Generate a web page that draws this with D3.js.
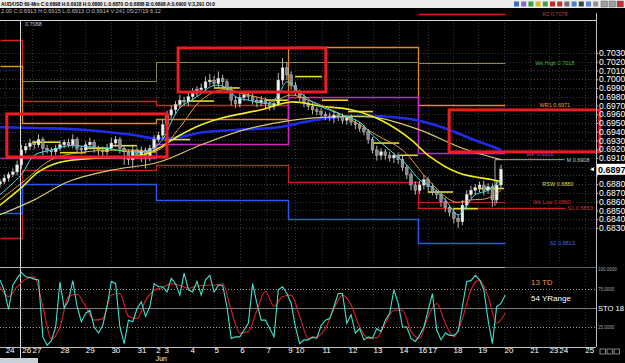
<!DOCTYPE html>
<html><head><meta charset="utf-8">
<script src="https://cdn.jsdelivr.net/npm/d3@7"></script>
<style>html,body{margin:0;padding:0;background:#000;overflow:hidden}svg{display:block}text{font-family:"Liberation Sans",Arial,sans-serif}</style>
</head><body><svg id="c" width="625" height="363"></svg>
<script>
// ---------------- DATA ----------------
// 4-hour bars, AUD/USD
const closes = [0.6883,0.6887,0.6891,0.6894,0.6902,0.6919,0.6923,0.6927,0.6925,0.6931,
0.6921,0.6919,0.6917,0.6921,0.6925,0.6928,0.6925,0.6931,0.6921,0.6919,
0.6925,0.6928,0.6921,0.6919,0.6917,0.6921,0.6927,0.6931,0.6921,0.6917,
0.6908,0.6919,0.6913,0.6919,0.6910,0.6921,0.6931,0.6936,0.6948,0.6959,
0.6965,0.6971,0.6976,0.6974,0.6980,0.6984,0.6988,0.6990,0.6997,0.6999,
0.6995,0.7001,0.6997,0.6988,0.6976,0.6972,0.6979,0.6982,0.6980,0.6976,
0.6973,0.6976,0.6972,0.6969,0.6972,0.6999,0.7013,0.7005,0.6993,0.6985,
0.6979,0.6973,0.6969,0.6965,0.6963,0.6960,0.6958,0.6956,0.6959,0.6957,
0.6953,0.6956,0.6951,0.6948,0.6944,0.6940,0.6931,0.6919,0.6913,0.6917,
0.6913,0.6910,0.6913,0.6908,0.6899,0.6891,0.6879,0.6873,0.6879,0.6885,
0.6877,0.6871,0.6868,0.6860,0.6853,0.6848,0.6841,0.6837,0.6856,0.6868,
0.6873,0.6876,0.6879,0.6873,0.6877,0.6862,0.6879,0.6897];
const firstOpen = 0.6880;
// wick lengths in pips
const upWick = [3,4,3,4,5,6,4,5,3,6, 3,4,3,4,5,3,4,6,3,3, 4,5,3,3,4,5,6,4,3,3, 3,6,3,4,3,4,5,4,6,5,
5,4,6,4,5,6,4,5,6,7, 5,8,4,3,4,5,5,4,5,4, 4,5,3,4,4,8,11,6,4,4, 3,4,3,4,3,4,3,4,5,3,
4,3,4,3,3,4,3,3,5,4, 3,4,3,3,4,3,3,4,5,5, 3,4,3,3,4,3,3,4,6,5, 5,4,4,5,4,4,6,5];
const downWick = [4,3,4,3,4,5,4,4,5,3, 8,4,5,4,3,4,3,4,6,5, 4,3,5,6,5,4,3,4,6,15, 6,10,4,8,12,4,4,3,4,4,
4,5,4,4,5,4,4,5,4,4, 4,5,6,4,6,5,4,4,4,5, 5,4,5,5,4,3,5,6,5,4, 4,5,4,5,4,4,5,4,6,5,
4,5,4,5,4,4,5,4,6,5, 5,4,6,5,4,5,6,5,4,5, 5,4,5,6,5,5,6,7,4,5, 4,5,5,6,4,8,4,4];

// moving averages: [bar, price]
const maCyan = [[0,0.6868],[5,0.6891],[8,0.6913],[12,0.6919],[16,0.6924],[20,0.6923],[25,0.6921],[30,0.6917],[35,0.6919],[38,0.6931],[40,0.6951],[42,0.6967],[46,0.6980],[50,0.6993],[53,0.6990],[55,0.6980],[58,0.6976],[63,0.6973],[65,0.6982],[67,0.6997],[70,0.6985],[74,0.6971],[80,0.6959],[84,0.6951],[87,0.6936],[91,0.6919],[95,0.6902],[98,0.6885],[101,0.6876],[104,0.6862],[107,0.6845],[109,0.6856],[111,0.6868],[114,0.6873],[117,0.6885]];
const maOrange = [[0,0.6862],[6,0.6885],[12,0.6908],[20,0.6917],[30,0.6919],[37,0.6919],[42,0.6945],[47,0.6976],[52,0.6988],[58,0.6982],[64,0.6976],[68,0.6982],[72,0.6976],[80,0.6959],[88,0.6936],[94,0.6919],[100,0.6885],[106,0.6860],[110,0.6862],[114,0.6864],[117,0.6873]];
const maYellow = [[0,0.6856],[5,0.6876],[9,0.6894],[14,0.6905],[23,0.6910],[33,0.6913],[37,0.6921],[42,0.6936],[47,0.6948],[52,0.6956],[61,0.6965],[68,0.6974],[75,0.6969],[82,0.6965],[89,0.6953],[96,0.6931],[100,0.6913],[107,0.6893],[115,0.6885],[117,0.6883]];
const maPale = [[0,0.6845],[8,0.6862],[16,0.6883],[26,0.6896],[37,0.6905],[47,0.6925],[57,0.6942],[68,0.6953],[78,0.6957],[88,0.6956],[98,0.6942],[108,0.6921],[117,0.6908]];
const maBlue = [[0,0.6945],[10,0.6944],[20,0.6942],[30,0.6937],[37,0.6932],[42,0.6934],[47,0.6939],[55,0.6942],[65,0.6945],[72,0.6952],[80,0.6957],[87,0.6958],[95,0.6955],[100,0.6950],[105,0.6942],[110,0.6932],[115,0.6923],[117,0.6919]];

// weekly pivot levels (weeks starting at bars)
const weekStarts = [0, 5.1, 36.4, 67.2, 97.6];
const weekLastBar = 118;
const wkR2 = [0.7045, 0.6975, 0.6971, null, 0.7075];
const wkR1 = [0.7015, 0.6950, 0.6955, 0.7037, 0.6971];
const wkHigh = [null, 0.6998, 0.7020, 0.7020, 0.7018];
const wkP = [0.6910, 0.6910, 0.6926, 0.6980, 0.6916];
const wkS1 = [0.6819, 0.6896, 0.6902, 0.6883, 0.6853];
const wkS2 = [0.6847, 0.6880, 0.6862, 0.6840, 0.6813];
const wkLow = [null, null, null, null, 0.6860];
const monthLevel = 0.6908;

// daily pivots
const dayPivotStart = [7.5,14.0,19.9,25.9,32.0,38.3,44.4,50.0,56.0,62.1,68.9,75.2,81.3,87.1,93.2,99.9,105.8,111.6];
const dayPivotEnd   = [14.0,19.9,25.9,32.0,36.4,44.4,50.0,56.0,62.1,67.2,75.2,81.3,87.1,93.2,97.6,105.8,111.6,117.7];
const dayPivot      = [0.6928,0.6916,0.6921,0.6924,0.6917,0.6931,0.6975,0.6990,0.6985,0.6976,0.7003,0.6976,0.6963,0.6927,0.6913,0.6871,0.6852,0.6875];

// annotation boxes [bar0, bar1, priceTop, priceBottom]
const boxes = [[1.6,39.0,0.69603,0.69111],[41.6,76.1,0.70357,0.69854],[104.9,140.1,0.69649,0.69169]];

// level labels
const levelTexts = ["R2 0.7078","Wk High 0.7018","WR1 0.6971","WP 0.6916","M 0.6908","RSW 0.6880","Wk Low 0.6860","S1 0.6853","S2 0.6813"];
const levelPrices = [0.7075,0.7018,0.6971,0.6914,0.6908,0.6880,0.6860,0.6853,0.6813];

// stochastic
const stochK = [87,73,48,80,89,97,91,90,88,87,
 12,1,7,25,84,50,60,86,52,32,
 43,47,25,17,27,52,85,82,25,3,
 34,32,49,58,39,52,82,78,78,71,
 89,82,67,96,74,71,85,67,87,93,
 71,80,80,52,10,12,12,21,30,82,
 56,34,34,23,12,74,78,69,56,25,
 3,8,8,12,10,27,34,36,52,69,
 69,30,41,17,23,8,12,10,23,19,
 34,43,74,56,25,25,10,6,14,25,
 47,69,21,8,17,14,14,19,52,85,
 86,93,87,74,34,3,52,56,67];
const stochD = [78,65,78,88,91,52,9,25,65,68,
 52,34,36,67,69,39,36,60,73,77,
 82,80,76,79,80,80,82,47,17,19,
 47,72,52,65,67,39,10,12,23,49,
 67,54,25,10,11,30,47,47,19,10,
 39,56,30,12,36,74,87,65,30,43];

// axes
const priceTicks = [0.7030,0.7020,0.7010,0.7000,0.6990,0.6980,0.6970,0.6960,0.6950,0.6940,0.6930,0.6920,0.6910,0.6900,0.6890,0.6880,0.6870,0.6860,0.6850,0.6840,0.6830];
const dayLabels = ["24","26","27","28","29","30","31","2","3","4","5","6","7","9","10","11","12","13","14","16","17","18","19","20","21","23","24","25"];
const dayStarts = [1.2,5.1,7.5,14.0,19.9,25.9,32.0,36.4,38.3,44.4,50.0,56.0,62.1,67.2,68.9,75.2,81.3,87.1,93.2,97.6,99.9,105.8,111.6,117.7,123.7,128.2,130.5,136.6];

const titleText = "AUD/USD 60-Min  C:0.6898  H:0.6918  H:0.6880  L:0.6870  O:0.6888  B:0.6898  A:0.6900  V:3,291  OI:0";
const infoText = "2.00  C:0.6913  H:0.6915  L:0.6913  O:0.6914  V:241  05/27/19  6:12";

// ---------------- DRAW ----------------
const svg = d3.select("#c");
svg.append("rect").attr("width",625).attr("height",363).attr("fill","#000");

const x = d3.scaleLinear().domain([0,139.2]).range([0,596]);
const y = d3.scaleLinear().domain([0.6791,0.70677]).range([262,20]);
const ys = d3.scaleLinear().domain([0,100]).range([346,270]);

const defs = svg.append("defs");
defs.append("clipPath").attr("id","cm").append("rect").attr("x",0).attr("y",9).attr("width",596).attr("height",254);
defs.append("clipPath").attr("id","cl").append("rect").attr("x",0).attr("y",268).attr("width",596).attr("height",79);

// header
svg.append("rect").attr("x",0).attr("y",0).attr("width",625).attr("height",8).attr("fill","#ececec");
svg.append("text").attr("x",1).attr("y",6.3).attr("font-size",6).attr("font-weight","bold").attr("fill","#000")
  .attr("textLength",214).attr("lengthAdjust","spacingAndGlyphs").text(titleText);
const iconCols = ["#3a70b8","#8a6ac8","#3aa040","#d8b820","#40a050","#c02828","#c83030","#707070","#5080c0","#404040","#5a88c8","#909090"];
iconCols.forEach((c,i)=>svg.append("rect").attr("x",514+i*7.2).attr("y",1.5).attr("width",5).attr("height",5).attr("fill",c));
["#a0a0a0","#a0a0a0","#c83030"].forEach((c,i)=>svg.append("rect").attr("x",601+i*8).attr("y",1).attr("width",6.5).attr("height",6).attr("fill",c).attr("stroke","#606060").attr("stroke-width",0.5));
svg.append("text").attr("x",1).attr("y",12.5).attr("font-size",5.5).attr("fill","#bdbdbd")
  .attr("textLength",160).attr("lengthAdjust","spacingAndGlyphs").text(infoText);

// grids
const gm = svg.append("g");
gm.selectAll("line.h").data(priceTicks).join("line")
  .attr("x1",0).attr("x2",596).attr("y1",d=>Math.round(y(d))+0.5).attr("y2",d=>Math.round(y(d))+0.5)
  .attr("stroke","#3a3a3a").attr("stroke-dasharray","1,2");
gm.selectAll("line.v").data(dayStarts).join("line")
  .attr("x1",d=>Math.round(x(d))+0.5).attr("x2",d=>Math.round(x(d))+0.5).attr("y1",20).attr("y2",262)
  .attr("stroke","#333").attr("stroke-dasharray","1,2");
gm.selectAll("line.v2").data(dayStarts).join("line")
  .attr("x1",d=>Math.round(x(d))+0.5).attr("x2",d=>Math.round(x(d))+0.5).attr("y1",270).attr("y2",346)
  .attr("stroke","#2c2c2c").attr("stroke-dasharray","1,2");

const main = svg.append("g").attr("clip-path","url(#cm)");

// weekly step levels
function stepLevel(vals, color, w, extendTo){
  const runs=[]; let cur=null;
  vals.forEach((v,i)=>{
    const s = weekStarts[i], e = i<weekStarts.length-1 ? weekStarts[i+1] : (extendTo||weekLastBar);
    if(v==null){ cur=null; return; }
    if(!cur){ cur=[]; runs.push(cur); }
    cur.push([s,v],[e,v]);
  });
  const ln = d3.line().x(d=>Math.round(x(d[0]))+0.5).y(d=>Math.round(y(d[1]))+0.5);
  runs.forEach(r=>main.append("path").attr("d",ln(r)).attr("fill","none").attr("stroke",color).attr("stroke-width",w));
}
stepLevel(wkR2,"#d82020",1.3);
stepLevel(wkR1,"#e08a28",1.3);
stepLevel(wkHigh,"#8c8a44",1);
stepLevel(wkP,"#c828c8",1.5);
stepLevel(wkS1,"#c42020",1.3, 137.8);
stepLevel(wkS2,"#2c58e8",1.5);
stepLevel(wkLow,"#b02828",1);
// monthly level segment
main.append("path").attr("d",d3.line()([[x(115.6),y(0.6855)],[x(115.6),y(monthLevel)],[x(137.8),y(monthLevel)]]))
  .attr("fill","none").attr("stroke","#a8a8a8").attr("stroke-width",1);

// daily pivots
main.selectAll("line.dp").data(dayPivot).join("line")
  .attr("x1",(d,i)=>x(dayPivotStart[i])).attr("x2",(d,i)=>x(dayPivotEnd[i]))
  .attr("y1",d=>y(d)).attr("y2",d=>y(d)).attr("stroke","#e8e020").attr("stroke-width",1.6);

// moving averages (behind candles: blue, pale)
const maLine = d3.line().x(d=>x(d[0])).y(d=>y(d[1])).curve(d3.curveCatmullRom);
main.append("path").attr("d",maLine(maBlue)).attr("fill","none").attr("stroke","#1e2cf0").attr("stroke-width",2.6);
main.append("path").attr("d",maLine(maPale)).attr("fill","none").attr("stroke","#d8c870").attr("stroke-width",1.2);

// candles
const bars = closes.map((c,i)=>{
  const o = i===0 ? firstOpen : closes[i-1];
  return {i,o,c,h:Math.max(o,c)+upWick[i]*0.0001,l:Math.min(o,c)-downWick[i]*0.0001};
});
const cg = main.append("g");
cg.selectAll("line").data(bars).join("line")
  .attr("x1",d=>x(d.i)).attr("x2",d=>x(d.i)).attr("y1",d=>y(d.h)).attr("y2",d=>y(d.l))
  .attr("stroke","#b8b8b8").attr("stroke-width",1);
cg.selectAll("rect").data(bars).join("rect")
  .attr("x",d=>x(d.i)-1.4).attr("width",2.8)
  .attr("y",d=>y(Math.max(d.o,d.c))).attr("height",d=>Math.max(1,Math.abs(y(d.o)-y(d.c))))
  .attr("fill",d=>d.c>=d.o?"#eeeeee":"#8a8a8a").attr("stroke","#cfcfcf").attr("stroke-width",0.4);

main.append("path").attr("d",maLine(maYellow)).attr("fill","none").attr("stroke","#f2ee1a").attr("stroke-width",1.6);
main.append("path").attr("d",maLine(maOrange)).attr("fill","none").attr("stroke","#e0a040").attr("stroke-width",1);
main.append("path").attr("d",maLine(maCyan)).attr("fill","none").attr("stroke","#46e0e8").attr("stroke-width",1);

// level labels
const labelX = [129.6,129.6,129.6,126.1,135.0,130.3,128.9,135.5,131.3];
const labelCol = ["#d83030","#48c048","#e0a838","#d040d0","#c8c8c8","#e0e040","#d03838","#d03838","#4a6af0"];
levelTexts.forEach((t,i)=>{
  const g = svg.append("g");
  const tx = g.append("text").attr("x",x(labelX[i])).attr("y",y(levelPrices[i])+2).attr("text-anchor","middle")
    .attr("font-size",5.5).attr("fill",labelCol[i]).text(t);
  const bb = tx.node().getBBox();
  g.insert("rect","text").attr("x",bb.x-2).attr("y",bb.y).attr("width",bb.width+4).attr("height",bb.height).attr("fill","#000");
});

// crosshair
svg.append("line").attr("x1",0).attr("x2",596).attr("y1",20.5).attr("y2",20.5).attr("stroke","#d8d8d8");
svg.append("line").attr("x1",20.5).attr("x2",20.5).attr("y1",20).attr("y2",363).attr("stroke","#d8d8d8");
svg.append("text").attr("x",25).attr("y",26).attr("font-size",5.5).attr("fill","#cfcfcf").text("0.7068");

// annotation boxes
svg.selectAll("rect.box").data(boxes).join("rect")
  .attr("x",d=>x(d[0])).attr("width",d=>x(d[1])-x(d[0]))
  .attr("y",d=>y(d[2])).attr("height",d=>y(d[3])-y(d[2]))
  .attr("fill","none").attr("stroke","#ec1c24").attr("stroke-width",3);

// price axis
const last = closes[closes.length-1];
const pa = svg.append("g").attr("transform","translate(596,0)")
  .call(d3.axisRight(y).tickValues(priceTicks).tickFormat(d3.format(".4f")).tickSize(2).tickPadding(1));
pa.select(".domain").remove();
pa.selectAll("line").attr("stroke","#ddd");
pa.selectAll("text").attr("fill","#fff").attr("font-size",8.6).attr("font-family","Liberation Sans, Arial");
// the label hidden under the last-price marker
pa.selectAll(".tick").filter(d=>Math.abs(y(d)-y(last))<7).select("text").remove();
svg.append("line").attr("x1",596.5).attr("x2",596.5).attr("y1",13).attr("y2",347).attr("stroke","#bdbdbd");

// current price box
svg.append("rect").attr("x",597).attr("y",y(last)-5.5).attr("width",28).attr("height",11).attr("fill","#fff");
svg.append("text").attr("x",598).attr("y",y(last)+3.5).attr("font-size",9).attr("font-weight","bold").attr("fill","#000").text(d3.format(".4f")(last));
svg.append("path").attr("d",`M590,${y(last)} l4,-2 v4 z`).attr("fill","#fff");

// panel separator
svg.append("line").attr("x1",0).attr("x2",505).attr("y1",267.5).attr("y2",267.5).attr("stroke","#b4b4b4");
svg.append("line").attr("x1",505).attr("x2",596).attr("y1",267.5).attr("y2",267.5).attr("stroke","#5a5a5a");

// stochastic panel
const lp = svg.append("g");
[75,25].forEach(v=>lp.append("line").attr("x1",0).attr("x2",596).attr("y1",Math.round(ys(v))+0.5).attr("y2",Math.round(ys(v))+0.5)
  .attr("stroke","#9a9a9a").attr("stroke-dasharray","1,2"));
lp.append("line").attr("x1",0).attr("x2",596).attr("y1",Math.round(ys(50))+0.5).attr("y2",Math.round(ys(50))+0.5).attr("stroke","#7a7a7a");
const lc = svg.append("g").attr("clip-path","url(#cl)");
lc.append("path").attr("d",d3.line().x((d,j)=>x(j*2)).y(d=>ys(d)).curve(d3.curveMonotoneX)(stochD))
  .attr("fill","none").attr("stroke","#d8202c").attr("stroke-width",1.1);
lc.append("path").attr("d",d3.line().x((d,i)=>x(i)).y(d=>ys(d))(stochK))
  .attr("fill","none").attr("stroke","#48e0cc").attr("stroke-width",1.1);

svg.append("text").attr("x",531).attr("y",285).attr("font-size",8).attr("fill","#e89050").text("13 TD");
svg.append("text").attr("x",531).attr("y",301).attr("font-size",8).attr("fill","#ffffff").text("54 YRange");
svg.append("text").attr("x",598).attr("y",ys(50)+3).attr("font-size",7.6).attr("fill","#fff").text("STO 18");
svg.append("text").attr("x",598).attr("y",ys(75)+2).attr("font-size",4.5).attr("fill","#aaa").text("75.0000");
svg.append("text").attr("x",598).attr("y",ys(25)+2).attr("font-size",4.5).attr("fill","#aaa").text("25.0000");
svg.append("text").attr("x",598).attr("y",271).attr("font-size",4.5).attr("fill","#aaa").text("100.0000");

// time axis
svg.append("line").attr("x1",0).attr("x2",596).attr("y1",347.5).attr("y2",347.5).attr("stroke","#c0c0c0");
const ta = svg.append("g").attr("transform","translate(0,347)")
  .call(d3.axisBottom(x).tickValues(dayStarts).tickFormat((d,i)=>dayLabels[i]).tickSize(0).tickPadding(0));
ta.select(".domain").remove();
ta.selectAll("text").attr("fill","#fff").attr("font-size",8).attr("text-anchor","start").attr("font-family","Liberation Sans, Arial");
svg.append("text").attr("x",x(36.4)).attr("y",361).attr("font-size",6.8).attr("fill","#fff").text("Jun");
svg.append("rect").attr("x",0).attr("y",358).attr("width",38).attr("height",5).attr("fill","#c8d0d8");
[0,1,2].forEach(i=>svg.append("rect").attr("x",600+i*7).attr("y",349).attr("width",5.5).attr("height",5).attr("fill","none").attr("stroke","#bbb").attr("stroke-width",0.7));
</script></body></html>
